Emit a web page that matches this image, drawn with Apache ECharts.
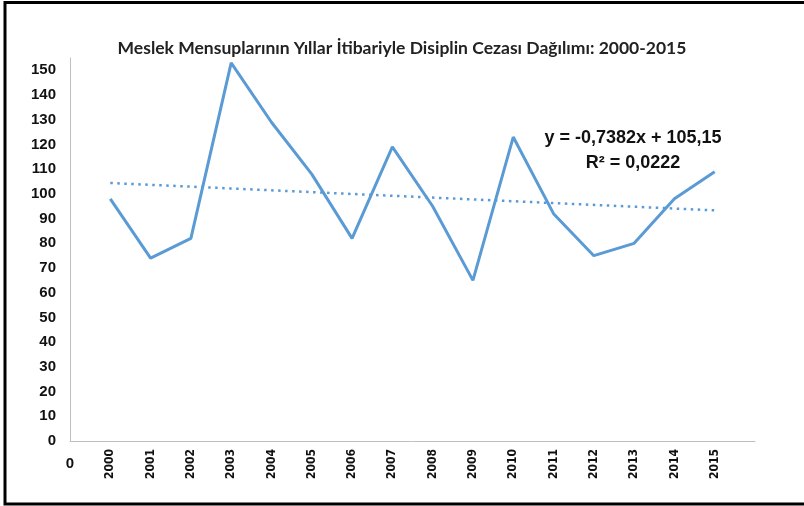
<!DOCTYPE html>
<html lang="tr">
<head>
    <meta charset="UTF-8">
    <title>Disiplin Cezası Dağılımı</title>
    <script src="https://cdn.jsdelivr.net/npm/echarts@6/dist/echarts.min.js"></script>
    <style>
        html, body { margin: 0; padding: 0; background: #fff; }
    </style>
</head>
<body>
<div id="myChart" style="height: 506px;width: 804px;"></div>
<script>
    // yıllar ve ceza sayıları
    var years = ['2000', '2001', '2002', '2003', '2004', '2005', '2006', '2007',
                 '2008', '2009', '2010', '2011', '2012', '2013', '2014', '2015'];
    var counts = [98, 74, 82, 153, 129, 108, 82, 119, 95, 65, 123, 92, 75, 80, 98, 109];

    // trend çizgisi (Excel doğrusal eğilim)
    var trendSlope = -0.7382;
    var trendIntercept = 105.15;
    var trendText = ['y = -0,7382x + 105,15', 'R² = 0,0222'];

    var titleText = 'Meslek Mensuplarının Yıllar İtibariyle Disiplin Cezası Dağılımı: 2000-2015';

    var blue = '#5B9BD5';

    var lineData = [];
    for (let i = 0; i < counts.length; i++) {
        lineData.push([i + 1, counts[i]]);
    }
    var trendData = [
        [1, trendSlope * 1 + trendIntercept],
        [years.length, trendSlope * years.length + trendIntercept]
    ];

    var chart = echarts.init(document.getElementById('myChart'));
    chart.setOption({
        animation: false,
        title: {
            text: titleText,
            left: 'center',
            top: 34,
            textStyle: {
                fontFamily: 'Lato, sans-serif',
                fontSize: 17.5,
                fontWeight: 'bold',
                color: '#222'
            }
        },
        graphic: [
            {
                type: 'rect',
                shape: { x: 5, y: 2.5, width: 860, height: 501.5 },
                style: { fill: 'none', stroke: '#000', lineWidth: 3 },
                silent: true
            },
            {
                type: 'text',
                x: 633,
                y: 126,
                style: {
                    text: trendText.join('\n'),
                    align: 'center',
                    verticalAlign: 'top',
                    font: 'bold 18px "Liberation Sans", sans-serif',
                    lineHeight: 25,
                    fill: '#111'
                }
            }
        ],
        grid: {
            left: 70,
            right: 49,
            top: 58,
            bottom: 65
        },
        xAxis: [
            {
                type: 'value',
                min: 0,
                max: 17,
                interval: 1,
                splitLine: { show: false },
                axisTick: { show: false },
                axisLine: { lineStyle: { color: '#BFBFBF', width: 1 } },
                axisLabel: {
                    rotate: 90,
                    margin: 8,
                    fontFamily: '"Liberation Sans Narrow", "DejaVu Sans Condensed", sans-serif',
                    fontWeight: 'bold',
                    fontSize: 12,
                    color: '#111',
                    formatter: function (v) {
                        return (v >= 1 && v <= years.length) ? years[v - 1] : '';
                    }
                }
            },
            {
                type: 'value',
                min: 0,
                max: 17,
                interval: 1,
                position: 'bottom',
                splitLine: { show: false },
                axisTick: { show: false },
                axisLine: { show: false },
                axisLabel: {
                    margin: 15,
                    fontFamily: '"Liberation Sans", sans-serif',
                    fontWeight: 'bold',
                    fontSize: 15,
                    color: '#111',
                    formatter: function (v) {
                        return v === 0 ? '0' : '';
                    }
                }
            }
        ],
        yAxis: {
            type: 'value',
            min: 0,
            max: 155,
            interval: 10,
            splitLine: { show: false },
            axisTick: { show: false },
            axisLine: { show: true, lineStyle: { color: '#BFBFBF', width: 1 } },
            axisLabel: {
                showMaxLabel: false,
                margin: 14,
                fontFamily: '"Liberation Sans", sans-serif',
                fontWeight: 'bold',
                fontSize: 15,
                color: '#111',
                formatter: function (v) {
                    return v % 10 === 0 ? String(v) : '';
                }
            }
        },
        series: [
            {
                name: 'Disiplin Cezası',
                type: 'line',
                symbol: 'none',
                data: lineData,
                lineStyle: { color: blue, width: 3 },
                z: 3
            },
            {
                name: 'Doğrusal eğilim',
                type: 'line',
                symbol: 'none',
                data: trendData,
                lineStyle: { color: blue, width: 2.5, type: [2.5, 4.5] },
                z: 2
            }
        ]
    });
</script>
</body>
</html>
